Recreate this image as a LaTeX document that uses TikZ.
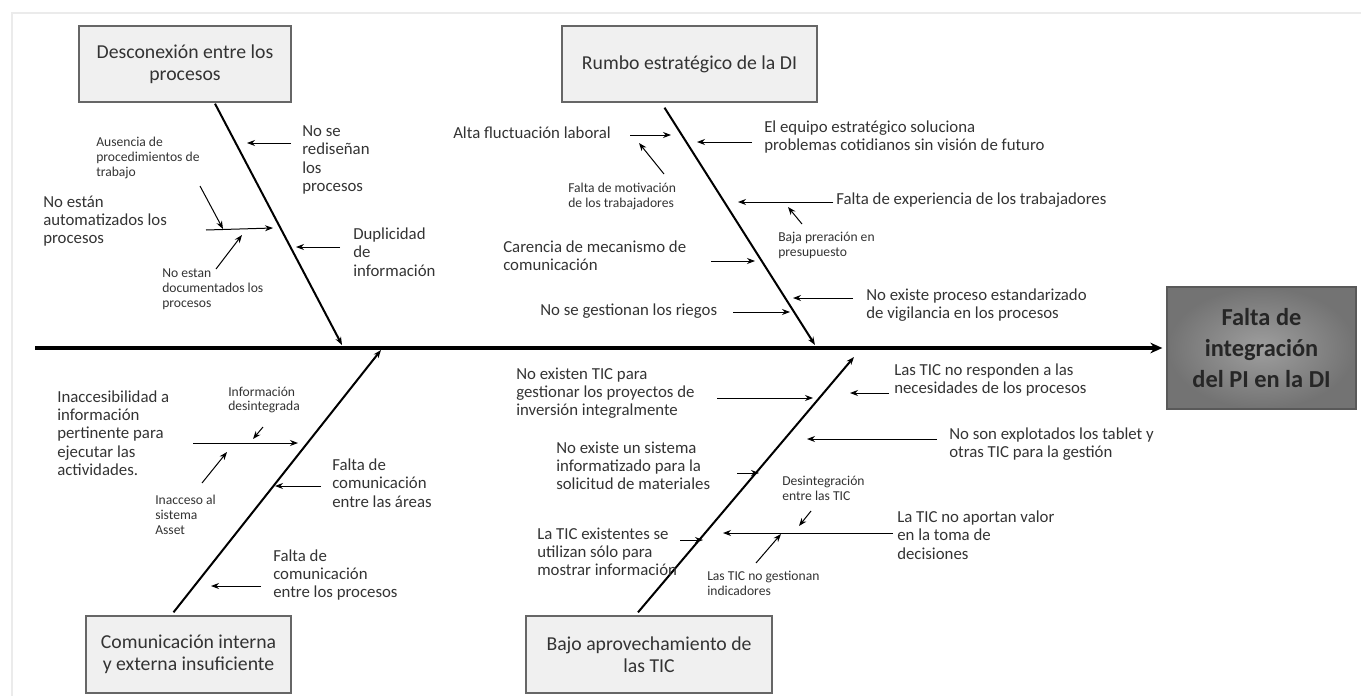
\documentclass[tikz,border=0pt]{standalone}
\usepackage{fontspec}
\setmainfont{Carlito}
\usetikzlibrary{arrows.meta, positioning}

\begin{document}
\begin{tikzpicture}[
    x=0.75pt, y=-0.75pt,
    >={Stealth[length=6pt, width=4.5pt]},
    cat/.style   = {draw=black!60, fill=black!6, line width=1pt, inner sep=0pt, align=center,
                    text=black!80, font=\fontsize{14.8}{16.5}\selectfont},
    head/.style  = {draw=black!65, inner color=black!38, outer color=black!55, line width=1pt,
                    inner sep=0pt, align=center, text=black!85,
                    minimum width=141.75pt, minimum height=91.5pt,
                    font=\fontsize{18.3}{23.2}\selectfont\bfseries},
    spine/.style = {-{Stealth[length=9pt, width=8pt]}, line width=2.6pt, shorten >=3pt},
    bone/.style  = {->, line width=1.5pt},
    cause/.style = {->, line width=0.75pt},
    lab/.style   = {anchor=west, align=left, inner sep=0pt, text=black!80,
                    font=\fontsize{12.6}{13.7}\selectfont},
    sub/.style   = {lab, font=\fontsize{10.2}{11.2}\selectfont}
  ]
  \useasboundingbox (0,0) rectangle (1361,696);

  % --- screenshot frame ---
  \draw[black!8, line width=1.5pt] (12,696) -- (12,13) -- (1361,13);

  % --- effect and spine ---
  \node[head] (effect) at (1261.5,348) {Falta de\\integración\\del PI en la DI};
  \coordinate (tail) at (35,348);
  \draw[spine] (tail) -- (effect.west);

  % --- category boxes ---
  \node[cat, minimum width=159pt, minimum height=57pt] (proc) at (185,64)
       {Desconexión entre los\\procesos};
  \node[cat, minimum width=191.25pt, minimum height=57pt] (rumbo) at (689.5,64)
       {Rumbo estratégico de la DI};
  \node[cat, minimum width=153.75pt, minimum height=57.75pt] (comu) at (188.5,654.5)
       {Comunicación interna\\y externa insuficiente};
  \node[cat, minimum width=184.5pt, minimum height=57.75pt] (tic) at (649,654.5)
       {Bajo aprovechamiento de\\las TIC};

  % --- bones ---
  \coordinate (proc-t) at (342,345);
  \coordinate (rumbo-t) at (815,345);
  \coordinate (comu-t) at (381,350);
  \coordinate (tic-t) at (854,357);
  \draw[bone] (proc.south) ++(30,1) -- (proc-t);
  \draw[bone] (rumbo.south) ++(-25,5) -- (rumbo-t);
  \draw[bone] (comu.north) ++(-15,-3) -- (comu-t);
  \draw[bone] (tic.north) ++(-11,-3) -- (tic-t);

  % --- causes: desconexion entre los procesos ---
  \node[lab] (redis) at (302,160) {No se\\rediseñan\\los\\procesos};
  \node[lab] (dupl) at (353,252) {Duplicidad\\de\\información};
  \node[lab] (autom) at (43,221) {No están\\automatizados los\\procesos};
  \node[sub] (ausen) at (96,158) {Ausencia de\\procedimientos de\\trabajo};
  \node[sub] (docum) at (162,289) {No estan\\documentados los\\procesos};
  \coordinate (redis-a) at (291,143);  \coordinate (redis-b) at (247,143);
  \coordinate (dupl-a) at (340,247);   \coordinate (dupl-b) at (296,247);
  \coordinate (autom-a) at (206,230);  \coordinate (autom-b) at (273,228);
  \coordinate (ausen-a) at (200,186);  \coordinate (ausen-b) at (223,229);
  \coordinate (docum-a) at (216,269);  \coordinate (docum-b) at (242,235);
  \draw[cause] (redis-a) -- (redis-b);
  \draw[cause] (dupl-a) -- (dupl-b);
  \draw[cause] (autom-a) -- (autom-b);
  \draw[cause] (ausen-a) -- (ausen-b);
  \draw[cause] (docum-a) -- (docum-b);

  % --- causes: rumbo estrategico ---
  \node[lab] (fluct) at (453,133) {Alta fluctuación laboral};
  \node[sub] (motiv) at (568,196) {Falta de motivación\\de los trabajadores};
  \node[lab] (equipo) at (764,137) {El equipo estratégico soluciona\\problemas cotidianos sin visión de futuro};
  \node[lab] (exper) at (836,200) {Falta de experiencia de los trabajadores};
  \node[sub] (presup) at (778,245) {Baja preración en\\presupuesto};
  \node[lab] (mecan) at (503,256) {Carencia de mecanismo de\\comunicación};
  \node[lab] (riegos) at (540,311) {No se gestionan los riegos};
  \node[lab] (vigil) at (866,305) {No existe proceso estandarizado\\de vigilancia en los procesos};
  \coordinate (fluct-a) at (630,135);  \coordinate (fluct-b) at (671,135);
  \coordinate (motiv-a) at (664,174);  \coordinate (motiv-b) at (639,143);
  \coordinate (equipo-a) at (752,142); \coordinate (equipo-b) at (697,142);
  \coordinate (exper-b) at (738,202);
  \coordinate (presup-a) at (802,224); \coordinate (presup-b) at (788,207);
  \coordinate (mecan-a) at (711,261);  \coordinate (mecan-b) at (755,261);
  \coordinate (riegos-a) at (733,312); \coordinate (riegos-b) at (790,312);
  \coordinate (vigil-a) at (853,298);  \coordinate (vigil-b) at (793,298);
  \draw[cause] (fluct-a) -- (fluct-b);
  \draw[cause] (motiv-a) -- (motiv-b);
  \draw[cause] (equipo-a) -- (equipo-b);
  \draw[cause, shorten <=2pt] (exper.west |- exper-b) -- (exper-b);
  \draw[cause] (presup-a) -- (presup-b);
  \draw[cause] (mecan-a) -- (mecan-b);
  \draw[cause] (riegos-a) -- (riegos-b);
  \draw[cause] (vigil-a) -- (vigil-b);

  % --- causes: comunicacion interna y externa ---
  \node[lab] (inacc) at (57,433) {Inaccesibilidad a\\información\\pertinente para\\ejecutar las\\actividades.};
  \node[sub] (desint) at (228,400) {Información\\desintegrada};
  \node[sub] (asset) at (155,515) {Inacceso al\\sistema\\Asset};
  \node[lab] (areas) at (332,483) {Falta de\\comunicación\\entre las áreas};
  \node[lab] (entre) at (273,575) {Falta de\\comunicación\\entre los procesos};
  \coordinate (inacc-a) at (193,443);  \coordinate (inacc-b) at (298,443);
  \coordinate (desint-a) at (263,427); \coordinate (desint-b) at (253,439);
  \coordinate (asset-a) at (202,483);  \coordinate (asset-b) at (227,452);
  \coordinate (areas-a) at (321,486);  \coordinate (areas-b) at (275,486);
  \coordinate (entre-a) at (261,586);  \coordinate (entre-b) at (211,586);
  \draw[cause] (inacc-a) -- (inacc-b);
  \draw[cause] (desint-a) -- (desint-b);
  \draw[cause] (asset-a) -- (asset-b);
  \draw[cause] (areas-a) -- (areas-b);
  \draw[cause] (entre-a) -- (entre-b);

  % --- causes: bajo aprovechamiento de las TIC ---
  \node[lab] (proyec) at (516,393) {No existen TIC para\\gestionar los proyectos de\\inversión integralmente};
  \node[lab] (respon) at (894,380) {Las TIC no responden a las\\necesidades de los procesos};
  \node[lab] (tablet) at (949,444) {No son explotados los tablet y\\otras TIC para la gestión};
  \node[lab] (mater) at (556,466) {No existe un sistema\\informatizado para la\\solicitud de materiales};
  \node[lab] (mostr) at (537,552) {La TIC existentes se\\utilizan sólo para\\mostrar información};
  \node[lab] (valor) at (897,535) {La TIC no aportan valor\\en la toma de\\decisiones};
  \node[sub] (entic) at (782,488) {Desintegración\\entre las TIC};
  \node[sub] (indic) at (707,583) {Las TIC no gestionan\\indicadores};
  \coordinate (proyec-a) at (717,398); \coordinate (proyec-b) at (813,398);
  \coordinate (respon-a) at (889,393); \coordinate (respon-b) at (850,393);
  \coordinate (tablet-a) at (937,439); \coordinate (tablet-b) at (807,439);
  \coordinate (mater-a) at (737,473);  \coordinate (mater-b) at (759,473);
  \coordinate (mostr-a) at (680,540);  \coordinate (mostr-b) at (703,540);
  \coordinate (valor-a) at (893,533);  \coordinate (valor-b) at (723,533);
  \coordinate (entic-a) at (811,511);  \coordinate (entic-b) at (799,526);
  \coordinate (indic-a) at (756,563);  \coordinate (indic-b) at (781,534);
  \draw[cause] (proyec-a) -- (proyec-b);
  \draw[cause] (respon-a) -- (respon-b);
  \draw[cause] (tablet-a) -- (tablet-b);
  \draw[cause] (mater-a) -- (mater-b);
  \draw[cause] (mostr-a) -- (mostr-b);
  \draw[cause] (valor-a) -- (valor-b);
  \draw[cause] (entic-a) -- (entic-b);
  \draw[cause] (indic-a) -- (indic-b);

\end{tikzpicture}
\end{document}
